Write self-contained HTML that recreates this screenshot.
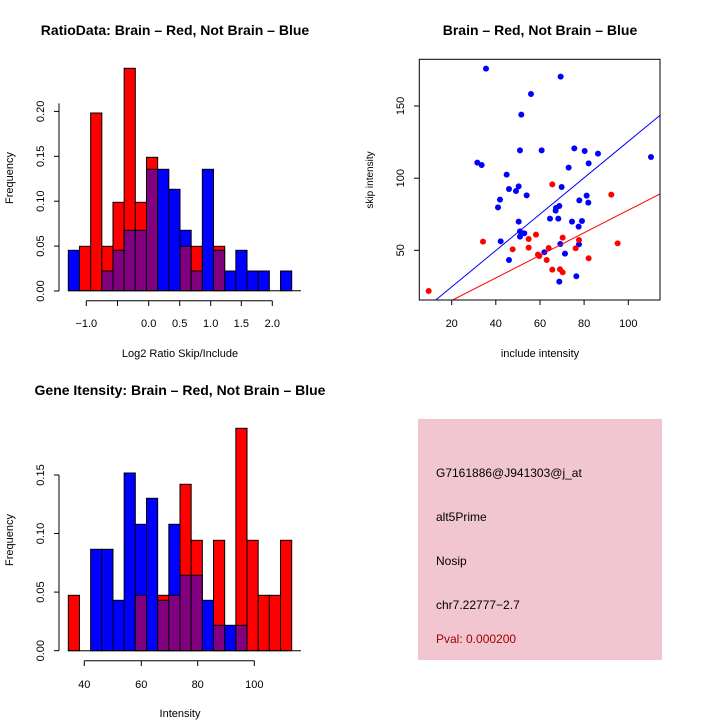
<!DOCTYPE html>
<html><head><meta charset="utf-8"><style>
html,body{margin:0;padding:0;background:#fff}
svg{display:block;font-family:"Liberation Sans",sans-serif}
</style></head><body>
<svg width="720" height="720" viewBox="0 0 720 720" xmlns="http://www.w3.org/2000/svg">
<rect width="720" height="720" fill="#fff"/>
<g stroke="#000" stroke-width="1">
<rect x="68.3" y="250.3" width="11.17" height="40.4" fill="#00f"/>
<rect x="79.47" y="246.3" width="11.17" height="44.4" fill="#f00"/>
<rect x="90.64" y="113" width="11.17" height="177.7" fill="#f00"/>
<rect x="101.81" y="246.3" width="11.17" height="44.4" fill="#f00"/>
<rect x="101.81" y="271" width="11.17" height="19.7" fill="#800080"/>
<rect x="112.98" y="202.3" width="11.17" height="88.4" fill="#f00"/>
<rect x="112.98" y="250.3" width="11.17" height="40.4" fill="#800080"/>
<rect x="124.15" y="68.3" width="11.17" height="222.4" fill="#f00"/>
<rect x="124.15" y="230.3" width="11.17" height="60.4" fill="#800080"/>
<rect x="135.32" y="202.3" width="11.17" height="88.4" fill="#f00"/>
<rect x="135.32" y="230.3" width="11.17" height="60.4" fill="#800080"/>
<rect x="146.49" y="157.3" width="11.17" height="133.4" fill="#f00"/>
<rect x="146.49" y="169.3" width="11.17" height="121.4" fill="#800080"/>
<rect x="157.66" y="169.3" width="11.17" height="121.4" fill="#00f"/>
<rect x="168.83" y="189.3" width="11.17" height="101.4" fill="#00f"/>
<rect x="180" y="230.3" width="11.17" height="60.4" fill="#00f"/>
<rect x="180" y="246.3" width="11.17" height="44.4" fill="#800080"/>
<rect x="191.17" y="246.3" width="11.17" height="44.4" fill="#f00"/>
<rect x="191.17" y="271" width="11.17" height="19.7" fill="#800080"/>
<rect x="202.34" y="169.3" width="11.17" height="121.4" fill="#00f"/>
<rect x="213.51" y="246.3" width="11.17" height="44.4" fill="#f00"/>
<rect x="213.51" y="250.3" width="11.17" height="40.4" fill="#800080"/>
<rect x="224.68" y="271" width="11.17" height="19.7" fill="#00f"/>
<rect x="235.85" y="250.3" width="11.17" height="40.4" fill="#00f"/>
<rect x="247.02" y="271" width="11.17" height="19.7" fill="#00f"/>
<rect x="258.19" y="271" width="11.17" height="19.7" fill="#00f"/>
<rect x="280.53" y="271" width="11.17" height="19.7" fill="#00f"/>
</g>
<line x1="68.3" y1="290.7" x2="301" y2="290.7" stroke="#000"/>

<g stroke="#000" stroke-width="1">
<rect x="68.3" y="595.3" width="11.17" height="55.4" fill="#f00"/>
<rect x="90.64" y="549.3" width="11.17" height="101.4" fill="#00f"/>
<rect x="101.81" y="549.3" width="11.17" height="101.4" fill="#00f"/>
<rect x="112.98" y="600.3" width="11.17" height="50.4" fill="#00f"/>
<rect x="124.15" y="473" width="11.17" height="177.7" fill="#00f"/>
<rect x="135.32" y="524.3" width="11.17" height="126.4" fill="#00f"/>
<rect x="135.32" y="595.3" width="11.17" height="55.4" fill="#800080"/>
<rect x="146.49" y="498.3" width="11.17" height="152.4" fill="#00f"/>
<rect x="157.66" y="595.3" width="11.17" height="55.4" fill="#f00"/>
<rect x="157.66" y="600.3" width="11.17" height="50.4" fill="#800080"/>
<rect x="168.83" y="524.3" width="11.17" height="126.4" fill="#00f"/>
<rect x="168.83" y="595.3" width="11.17" height="55.4" fill="#800080"/>
<rect x="180" y="484.3" width="11.17" height="166.4" fill="#f00"/>
<rect x="180" y="575.3" width="11.17" height="75.4" fill="#800080"/>
<rect x="191.17" y="540.3" width="11.17" height="110.4" fill="#f00"/>
<rect x="191.17" y="575.3" width="11.17" height="75.4" fill="#800080"/>
<rect x="202.34" y="600.3" width="11.17" height="50.4" fill="#00f"/>
<rect x="213.51" y="540.3" width="11.17" height="110.4" fill="#f00"/>
<rect x="213.51" y="625.3" width="11.17" height="25.4" fill="#800080"/>
<rect x="224.68" y="625.3" width="11.17" height="25.4" fill="#00f"/>
<rect x="235.85" y="428.3" width="11.17" height="222.4" fill="#f00"/>
<rect x="235.85" y="625.3" width="11.17" height="25.4" fill="#800080"/>
<rect x="247.02" y="540.3" width="11.17" height="110.4" fill="#f00"/>
<rect x="258.19" y="595.3" width="11.17" height="55.4" fill="#f00"/>
<rect x="269.36" y="595.3" width="11.17" height="55.4" fill="#f00"/>
<rect x="280.53" y="540.3" width="11.17" height="110.4" fill="#f00"/>
</g>
<line x1="68.3" y1="650.7" x2="301" y2="650.7" stroke="#000"/>

<!-- top-left axes -->
<g stroke="#000" fill="none">
<line x1="86.3" y1="300.7" x2="272.3" y2="300.7"/>
<line x1="86.3" y1="300.7" x2="86.3" y2="306"/><line x1="117.5" y1="300.7" x2="117.5" y2="306"/>
<line x1="148.7" y1="300.7" x2="148.7" y2="306"/><line x1="179.7" y1="300.7" x2="179.7" y2="306"/>
<line x1="210.7" y1="300.7" x2="210.7" y2="306"/><line x1="241.3" y1="300.7" x2="241.3" y2="306"/>
<line x1="272.3" y1="300.7" x2="272.3" y2="306"/>
<line x1="59" y1="291" x2="59" y2="103.4"/>
<line x1="54" y1="291" x2="59" y2="291"/><line x1="54" y1="246.1" x2="59" y2="246.1"/>
<line x1="54" y1="201.2" x2="59" y2="201.2"/><line x1="54" y1="156.3" x2="59" y2="156.3"/>
<line x1="54" y1="111.4" x2="59" y2="111.4"/>
</g>
<g font-size="11" text-anchor="middle" fill="#000">
<text x="86.3" y="327">−1.0</text><text x="148.7" y="327">0.0</text><text x="179.7" y="327">0.5</text>
<text x="210.7" y="327">1.0</text><text x="241.3" y="327">1.5</text><text x="272.3" y="327">2.0</text>
<text transform="translate(44,291) rotate(-90)">0.00</text>
<text transform="translate(44,246.1) rotate(-90)">0.05</text>
<text transform="translate(44,201.2) rotate(-90)">0.10</text>
<text transform="translate(44,156.3) rotate(-90)">0.15</text>
<text transform="translate(44,111.4) rotate(-90)">0.20</text>
<text transform="translate(13,178) rotate(-90)">Frequency</text>
<text x="180" y="357">Log2 Ratio Skip/Include</text>
<text x="175" y="35" font-size="14" font-weight="bold">RatioData: Brain – Red, Not Brain – Blue</text>
</g>

<!-- bottom-left axes -->
<g stroke="#000" fill="none">
<line x1="84.3" y1="660.7" x2="254.3" y2="660.7"/>
<line x1="84.3" y1="660.7" x2="84.3" y2="666"/><line x1="141.3" y1="660.7" x2="141.3" y2="666"/>
<line x1="197.7" y1="660.7" x2="197.7" y2="666"/><line x1="254.3" y1="660.7" x2="254.3" y2="666"/>
<line x1="59" y1="650.7" x2="59" y2="475"/>
<line x1="54" y1="650.7" x2="59" y2="650.7"/><line x1="54" y1="592.1" x2="59" y2="592.1"/>
<line x1="54" y1="533.5" x2="59" y2="533.5"/><line x1="54" y1="475" x2="59" y2="475"/>
</g>
<g font-size="11" text-anchor="middle" fill="#000">
<text x="84.3" y="688">40</text><text x="141.3" y="688">60</text><text x="197.7" y="688">80</text><text x="254.3" y="688">100</text>
<text transform="translate(44,650.7) rotate(-90)">0.00</text>
<text transform="translate(44,592.1) rotate(-90)">0.05</text>
<text transform="translate(44,533.5) rotate(-90)">0.10</text>
<text transform="translate(44,475) rotate(-90)">0.15</text>
<text transform="translate(13,540) rotate(-90)">Frequency</text>
<text x="180" y="717">Intensity</text>
<text x="180" y="395" font-size="14" font-weight="bold">Gene Itensity: Brain – Red, Not Brain – Blue</text>
</g>

<!-- scatter -->
<defs><clipPath id="cp"><rect x="419.3" y="59.3" width="240.7" height="240.7"/></clipPath></defs>
<g clip-path="url(#cp)">
<g transform="translate(380,40) scale(0.3333)">
<g fill="#00f">
<circle cx="318" cy="86" r="9"/><circle cx="542" cy="110" r="9"/><circle cx="453" cy="162" r="9"/><circle cx="424" cy="224" r="9"/>
<circle cx="420" cy="331" r="9"/><circle cx="485" cy="331" r="9"/><circle cx="292" cy="368" r="9"/><circle cx="305" cy="375" r="9"/>
<circle cx="380" cy="404" r="9"/><circle cx="387" cy="447" r="9"/><circle cx="408" cy="453" r="9"/><circle cx="416" cy="439" r="9"/>
<circle cx="440" cy="466" r="9"/><circle cx="360" cy="479" r="9"/><circle cx="354" cy="502" r="9"/><circle cx="583" cy="325" r="9"/>
<circle cx="614" cy="333" r="9"/><circle cx="654" cy="341" r="9"/><circle cx="626" cy="370" r="9"/><circle cx="566" cy="383" r="9"/>
<circle cx="545" cy="441" r="9"/><circle cx="813" cy="351" r="9"/><circle cx="620" cy="467" r="9"/><circle cx="625" cy="488" r="9"/>
<circle cx="598" cy="481" r="9"/><circle cx="528" cy="504" r="9"/><circle cx="538" cy="498" r="9"/><circle cx="527" cy="512" r="9"/>
<circle cx="510" cy="536" r="9"/><circle cx="535" cy="536" r="9"/><circle cx="576" cy="545" r="9"/><circle cx="606" cy="543" r="9"/>
<circle cx="596" cy="560" r="9"/><circle cx="416" cy="545" r="9"/><circle cx="420" cy="574" r="9"/><circle cx="433" cy="580" r="9"/>
<circle cx="420" cy="590" r="9"/><circle cx="362" cy="604" r="9"/><circle cx="493" cy="637" r="9"/><circle cx="541" cy="612" r="9"/>
<circle cx="597" cy="613" r="9"/><circle cx="555" cy="641" r="9"/><circle cx="387" cy="660" r="9"/><circle cx="538" cy="725" r="9"/>
<circle cx="589" cy="709" r="9"/>
</g>
<g fill="#f00">
<circle cx="146" cy="753" r="9"/><circle cx="309" cy="605" r="9"/><circle cx="517" cy="433" r="9"/><circle cx="694" cy="464" r="9"/>
<circle cx="713" cy="610" r="9"/><circle cx="398" cy="628" r="9"/><circle cx="446" cy="597" r="9"/><circle cx="446" cy="623" r="9"/>
<circle cx="468" cy="584" r="9"/><circle cx="478" cy="648" r="9"/><circle cx="506" cy="624" r="9"/><circle cx="500" cy="660" r="9"/>
<circle cx="517" cy="689" r="9"/><circle cx="540" cy="688" r="9"/><circle cx="548" cy="697" r="9"/><circle cx="548" cy="593" r="9"/>
<circle cx="587" cy="625" r="9"/><circle cx="597" cy="600" r="9"/><circle cx="626" cy="655" r="9"/><circle cx="474" cy="644" r="9"/>
</g>
<line x1="165" y1="782" x2="840" y2="226" stroke="#00f" stroke-width="3"/>
<line x1="218" y1="780" x2="840" y2="462" stroke="#f00" stroke-width="3"/>
</g>
</g>
<rect x="419.3" y="59.3" width="240.7" height="240.7" fill="none" stroke="#000"/>
<g stroke="#000">
<line x1="451.7" y1="300" x2="451.7" y2="305"/><line x1="495.8" y1="300" x2="495.8" y2="305"/>
<line x1="540" y1="300" x2="540" y2="305"/><line x1="584.1" y1="300" x2="584.1" y2="305"/>
<line x1="628.3" y1="300" x2="628.3" y2="305"/>
<line x1="414" y1="106" x2="419.3" y2="106"/><line x1="414" y1="178.2" x2="419.3" y2="178.2"/>
<line x1="414" y1="250.3" x2="419.3" y2="250.3"/>
</g>
<g font-size="11" text-anchor="middle" fill="#000">
<text x="451.7" y="327">20</text><text x="495.8" y="327">40</text><text x="540" y="327">60</text>
<text x="584.1" y="327">80</text><text x="628.3" y="327">100</text>
<text transform="translate(404,106) rotate(-90)">150</text>
<text transform="translate(404,178.2) rotate(-90)">100</text>
<text transform="translate(404,250.3) rotate(-90)">50</text>
<text transform="translate(373,180) rotate(-90)" font-size="10">skip intensity</text>
<text x="540" y="357">include intensity</text>
<text x="540" y="35" font-size="14" font-weight="bold">Brain – Red, Not Brain – Blue</text>
</g>

<!-- text panel -->
<rect x="418" y="419" width="244" height="241" fill="#f2c6d0"/>
<g font-size="12" fill="#000">
<text x="436" y="477">G7161886@J941303@j_at</text>
<text x="436" y="521">alt5Prime</text>
<text x="436" y="565">Nosip</text>
<text x="436" y="609">chr7.22777−2.7</text>
<text x="436" y="643" fill="#a00000">Pval: 0.000200</text>
</g>
</svg>
</body></html>
